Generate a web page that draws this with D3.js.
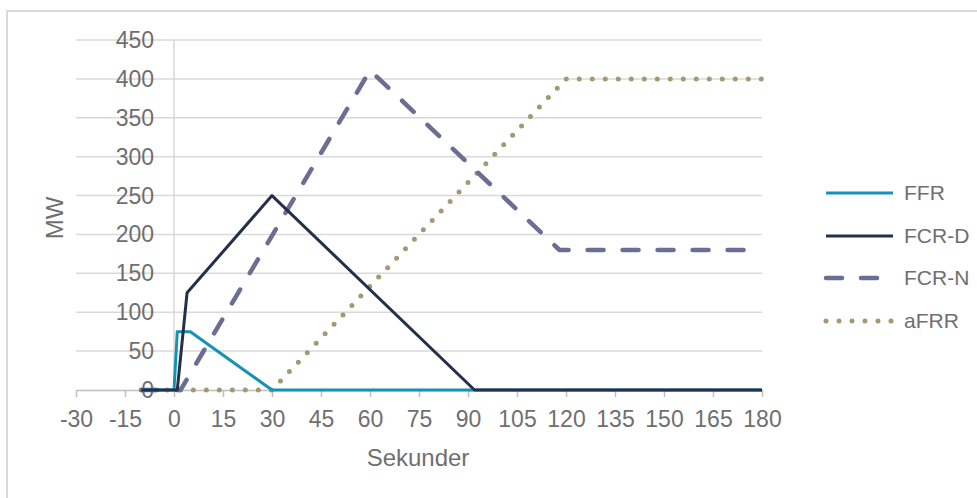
<!DOCTYPE html>
<html><head><meta charset="utf-8">
<script src="https://cdn.jsdelivr.net/npm/d3@7"></script>
<style>body{margin:0;background:#fff;}svg{display:block;}</style>
</head><body>
<svg id="c" width="977" height="498"></svg>
<script>
const xTicks = [-30,-15,0,15,30,45,60,75,90,105,120,135,150,165,180];
const yTicks = [0,50,100,150,200,250,300,350,400,450];
const seriesNames = ["FFR","FCR-D","FCR-N","aFRR"];
const ffrX = [-10,0,1,5,30,180];
const ffrY = [0,0,75,75,0,0];
const fcrdX = [-10,1,4,30,92,180];
const fcrdY = [0,0,125,250,0,0];
const fcrnX = [-10,2,60,118,180];
const fcrnY = [0,0,411,180,180];
const afrrX = [-10,30,120,180];
const afrrY = [0,0,400,400];

const svg = d3.select("#c");
const font = "'Liberation Sans', Arial, sans-serif";
const tc = "#6f6f6f";
// frame
svg.append("rect").attr("x",7).attr("y",11).attr("width",980).attr("height",500)
  .attr("fill","none").attr("stroke","#d9d9d9").attr("stroke-width",2);

const x = d3.scaleLinear().domain([-30,180]).range([76,762]);
const y = d3.scaleLinear().domain([0,450]).range([390,40]);

// gridlines
svg.append("g").selectAll("line").data(yTicks.filter(d=>d>0)).join("line")
  .attr("x1",x(-30)).attr("x2",x(180)).attr("y1",d=>y(d)).attr("y2",d=>y(d))
  .attr("stroke","#d9d9d9").attr("stroke-width",1.5);
// y axis line at x=0
svg.append("line").attr("x1",x(0)).attr("x2",x(0)).attr("y1",y(450)).attr("y2",y(0))
  .attr("stroke","#d9d9d9").attr("stroke-width",1.5);

// x axis
const xa = svg.append("g").attr("transform",`translate(0,${y(0)})`)
  .call(d3.axisBottom(x).tickValues(xTicks).tickSize(7).tickPadding(14).tickSizeOuter(0)
    .tickFormat(d=>String(d)));
xa.select(".domain").attr("stroke","#bfbfbf").attr("stroke-width",1.5);
xa.selectAll(".tick line").attr("stroke","#bfbfbf").attr("stroke-width",1.5);
xa.selectAll("text").attr("fill",tc).attr("font-size",23).attr("font-family",font);

// y labels
svg.append("g").selectAll("text").data(yTicks).join("text")
  .attr("x",x(0)-20).attr("y",d=>y(d)).attr("dy","0.35em").attr("text-anchor","end")
  .attr("fill",tc).attr("font-size",23).attr("font-family",font).text(d=>d);

// axis titles
svg.append("text").attr("x",418).attr("y",466).attr("text-anchor","middle")
  .attr("fill",tc).attr("font-size",24).attr("font-family",font).text("Sekunder");
svg.append("text").attr("transform","translate(63,218) rotate(-90)").attr("text-anchor","middle")
  .attr("fill",tc).attr("font-size",24).attr("font-family",font).text("MW");

const styles = [
  {c:"#1592b8", w:3, dash:null, cap:"butt"},
  {c:"#22314a", w:3, dash:null, cap:"butt"},
  {c:"#6b6e94", w:4.5, dash:"16 19", cap:"round"},
  {c:"#a39a74", w:5, dash:"0 13", cap:"round"}
];
const data = [
  ffrX.map((v,i)=>[v,ffrY[i]]),
  fcrdX.map((v,i)=>[v,fcrdY[i]]),
  fcrnX.map((v,i)=>[v,fcrnY[i]]),
  afrrX.map((v,i)=>[v,afrrY[i]])
];
const line = d3.line().x(d=>x(d[0])).y(d=>y(d[1]));
const order = [3,2,0,1];
order.forEach(i=>{
  const s = styles[i];
  svg.append("path").attr("d",line(data[i])).attr("fill","none")
    .attr("stroke",s.c).attr("stroke-width",s.w).attr("stroke-linecap",s.cap)
    .attr("stroke-linejoin","round").attr("stroke-dasharray",s.dash);
});

// legend
const ly = [193,236,278,321];
seriesNames.forEach((n,i)=>{
  const s = styles[i];
  svg.append("line").attr("x1",826).attr("x2",893).attr("y1",ly[i]).attr("y2",ly[i])
    .attr("stroke",s.c).attr("stroke-width",s.w).attr("stroke-linecap",s.cap)
    .attr("stroke-dasharray",s.dash);
  svg.append("text").attr("x",904).attr("y",ly[i]).attr("dy","0.35em")
    .attr("fill",tc).attr("font-size",21).attr("font-family",font).text(n);
});
</script>
</body></html>
